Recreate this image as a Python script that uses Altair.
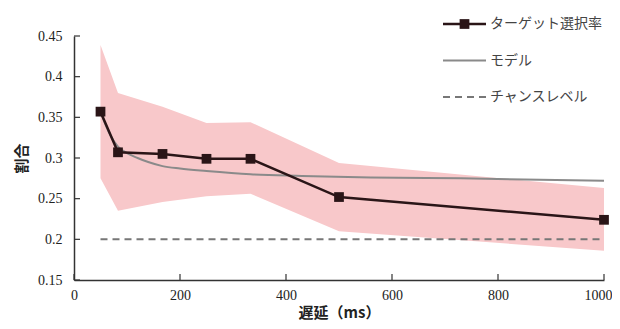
import altair as alt
import pandas as pd

# ---- data ----
delay = [50, 83, 167, 250, 333, 500, 1000]
target = [0.357, 0.307, 0.305, 0.299, 0.299, 0.252, 0.224]
band_upper = [0.439, 0.380, 0.363, 0.343, 0.344, 0.294, 0.263]
band_lower = [0.275, 0.235, 0.246, 0.253, 0.256, 0.210, 0.186]

model_x = [50, 60, 70, 83, 100, 120, 140, 167, 200, 250, 333, 430, 560, 730, 1000]
model_y = [0.357, 0.340, 0.326, 0.314, 0.306, 0.300, 0.295, 0.290, 0.287, 0.284, 0.280, 0.278, 0.276, 0.275, 0.272]

chance_x = [50, 1000]
chance_y = [0.2, 0.2]

series_names = ["ターゲット選択率", "モデル", "チャンスレベル"]
x_ticks = [0, 200, 400, 600, 800, 1000]
y_ticks = [0.15, 0.2, 0.25, 0.3, 0.35, 0.4, 0.45]

# ---- tables ----
band_df = pd.DataFrame({"x": delay, "lo": band_lower, "hi": band_upper})
target_df = pd.DataFrame({"x": delay, "y": target})
model_df = pd.DataFrame({"x": model_x, "y": model_y})
chance_df = pd.DataFrame({"x": chance_x, "y": chance_y})
xt_df = pd.DataFrame({"x": x_ticks})
yt_df = pd.DataFrame({"y": y_ticks})

DARK = "#2a1517"
MODEL_C = "#8a8a8a"
CHANCE_C = "#777777"
SERIF = "Liberation Serif, Times New Roman, serif"
W, H = 530, 244

xscale = alt.Scale(domain=[0, 1000], nice=False)
yscale = alt.Scale(domain=[0.15, 0.45], nice=False, zero=False)

last_x = "datum.value == 1000"
xaxis = alt.Axis(values=x_ticks, format="d", labelPadding=8, titlePadding=3,
                 labelFlush=False, labelFont=SERIF,
                 labelAlign=alt.ConditionalAxisLabelAlign(
                     condition={"test": last_x, "value": "right"}, value="center"),
                 labelOffset=alt.ConditionalAxisNumber(
                     condition={"test": last_x, "value": 8}, value=0))
yaxis = alt.Axis(values=y_ticks, format=".2~f", labelPadding=12, titlePadding=8,
                 labelFont=SERIF)
xenc = alt.X("x:Q", scale=xscale, title="遅延（ms）", axis=xaxis)
yenc = alt.Y("y:Q", scale=yscale, title="割合", axis=yaxis)

band = alt.Chart(band_df).mark_area(color="#f8c8ca").encode(
    x=xenc,
    y=alt.Y("lo:Q", scale=yscale, title="割合", axis=yaxis),
    y2="hi:Q",
)

chance = alt.Chart(chance_df).mark_line(strokeWidth=2, color=CHANCE_C,
                                        strokeDash=[7, 5]).encode(x=xenc, y=yenc)
model = alt.Chart(model_df).mark_line(strokeWidth=2, color=MODEL_C,
                                      interpolate="monotone").encode(x=xenc, y=yenc)
tline = alt.Chart(target_df).mark_line(strokeWidth=2.5, color=DARK).encode(x=xenc, y=yenc)
tpts = alt.Chart(target_df).mark_point(shape="square", filled=True, size=95,
                                       opacity=1, color=DARK).encode(x=xenc, y=yenc)

# inward tick marks
ytk = alt.Chart(yt_df).mark_rule(color="#333", strokeWidth=1.2).encode(
    y=yenc, x=alt.value(0), x2=alt.value(6))
xtk = alt.Chart(xt_df).mark_rule(color="#333", strokeWidth=1.2).encode(
    x=xenc, y=alt.value(H), y2=alt.value(H - 6))

# ---- hand-built legend (top right) ----
leg_x0, leg_x1, leg_text_x = 369, 412, 416
leg_rows = [-12, 24.5, 61]
leg_colors = [DARK, MODEL_C, CHANCE_C]
leg_dash = [[1, 0], [1, 0], [7, 5]]
leg_width = [2.5, 2, 2]
legend_layers = []
for i, name in enumerate(series_names):
    ldf = pd.DataFrame({"label": [name]})
    legend_layers.append(
        alt.Chart(ldf).mark_rule(color=leg_colors[i], strokeWidth=leg_width[i],
                                 strokeDash=leg_dash[i]).encode(
            x=alt.value(leg_x0), x2=alt.value(leg_x1), y=alt.value(leg_rows[i])))
    legend_layers.append(
        alt.Chart(ldf).mark_text(align="left", baseline="middle", font="Noto Sans CJK JP",
                                 fontSize=14, color="#444").encode(
            x=alt.value(leg_text_x), y=alt.value(leg_rows[i]), text="label:N"))
legend_layers.append(
    alt.Chart(pd.DataFrame({"label": [series_names[0]]})).mark_point(
        shape="square", filled=True, size=95, opacity=1, color=DARK).encode(
        x=alt.value((leg_x0 + leg_x1) / 2), y=alt.value(leg_rows[0])))

chart = alt.layer(band, chance, model, tline, tpts, ytk, xtk, *legend_layers).properties(
    width=W, height=H,
    autosize=alt.AutoSizeParams(type="none"),
    padding={"left": 66, "top": 28, "right": 8, "bottom": 41},
).configure_view(stroke=None).configure_axis(
    grid=False, ticks=False, domainColor="#333", domainWidth=1.5,
    labelFont=SERIF, labelFontSize=14, labelColor="#222",
    titleFont="Noto Sans CJK JP", titleFontSize=15, titleFontWeight="bold",
    titleColor="#222",
)

chart.save("out.html", embed_options={"renderer": "svg", "actions": False})
